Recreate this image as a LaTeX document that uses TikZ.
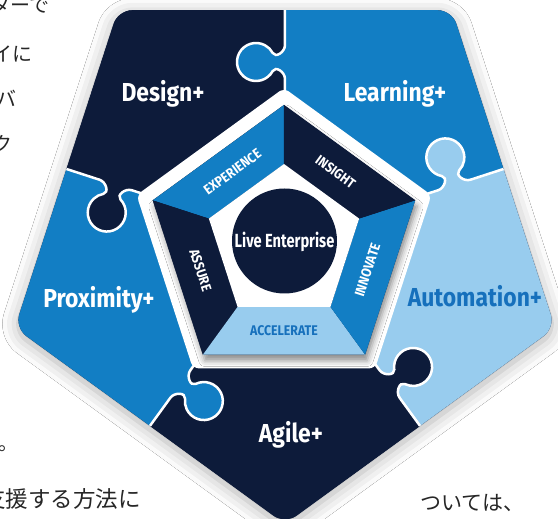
\documentclass[tikz,border=0pt]{standalone}
\usepackage{fontspec}
\setmainfont{Fira Sans}
\newfontfamily\labelfont{Fira Sans}[FakeStretch=0.88]
\newfontfamily\corefont{Fira Sans}[FakeStretch=0.77]
\newfontfamily\jpfont{Noto Sans CJK JP}
\usetikzlibrary{shadows.blur}
\usepackage{xcolor}
\definecolor{navy}{RGB}{13,27,58}
\definecolor{midblue}{RGB}{18,126,196}
\definecolor{lightblue}{RGB}{152,204,238}
\definecolor{autoblue}{RGB}{22,112,188}
\def\knobdist{178}

\begin{document}
\begin{tikzpicture}[x=1pt, y=1pt]
    \tikzstyle{piece label}=[font=\labelfont\bfseries\fontsize{26}{26}\selectfont, text=white, inner sep=0pt, text height=18pt, text depth=0pt]
    \tikzstyle{band label}=[font=\labelfont\bfseries\fontsize{14}{14}\selectfont, text=white, inner sep=0pt, text height=9.6pt, text depth=0pt]
    \tikzstyle{core}=[circle, fill=navy, minimum size=105pt, inner sep=0pt, text=white, font=\corefont\bfseries\fontsize{19}{19}\selectfont, text height=13pt, text depth=0pt]
    \tikzstyle{jp text}=[font=\jpfont\fontsize{20}{20}\selectfont, text=black!85, inner sep=0pt]
    \tikzstyle{gap}=[draw=white, line width=2.5pt]

    % Page with the margins of the screenshot
    \fill[white] (-285,-279) rectangle (273,240);
    \useasboundingbox (-285,-279) rectangle (273,240);

    % Knob points on every seam (seam k runs out at angle 162-72k)
    \foreach \k [evaluate=\k as \th using 162-72*\k] in {1,...,5}
    {
        \begin{scope}[shift={(\th:\knobdist)}, rotate=\th]
            \coordinate (K\k-a) at (-17,0);
            \coordinate (K\k-b) at (-10,0);
            \coordinate (K\k-c) at (-3.7,9.4);
            \coordinate (K\k-d) at (-9,12.27);
            \coordinate (K\k-e) at (9,12.27);
            \coordinate (K\k-f) at (3.7,9.4);
            \coordinate (K\k-g) at (10,0);
            \coordinate (K\k-h) at (17,0);
        \end{scope}
    }

    % Outer pentagon with its shadow
    \fill[navy, rounded corners=14, blur shadow={shadow xshift=0pt, shadow yshift=-4pt, shadow blur radius=16pt, shadow opacity=32}]
        (-90:284) -- (-18:284) -- (54:284) -- (126:284) -- (198:284) -- cycle;

    % Draw the five puzzle pieces
    \begin{scope}
        \clip[rounded corners=14] (-90:284) -- (-18:284) -- (54:284) -- (126:284) -- (198:284) -- cycle;
        \foreach \k/\n/\c [evaluate=\k as \th using 162-72*\k] in {1/2/midblue, 2/3/lightblue, 3/4/navy, 4/5/midblue, 5/1/navy}
            \fill[\c] (0,0) -- (K\k-a) .. controls (K\k-b) and (K\k-c) .. (K\k-d)
                arc[start angle=\th+241.7, end angle=\th-61.7, radius=19]
                .. controls (K\k-f) and (K\k-g) .. (K\k-h) -- (\th:240)
                -- ({\th-36}:300) -- ({\th-72}:240)
                -- (K\n-h) .. controls (K\n-g) and (K\n-f) .. (K\n-e)
                arc[start angle=\th-133.7, end angle=\th+169.7, radius=19]
                .. controls (K\n-c) and (K\n-b) .. (K\n-a) -- cycle;

        % white seams between the pieces
        \foreach \k [evaluate=\k as \th using 162-72*\k] in {1,...,5}
            \draw[gap] (0,0) -- (K\k-a) .. controls (K\k-b) and (K\k-c) .. (K\k-d)
                arc[start angle=\th+241.7, end angle=\th-61.7, radius=19]
                .. controls (K\k-f) and (K\k-g) .. (K\k-h) -- (\th:240);
    \end{scope}

    % Inner pentagon
    \begin{scope}[shift={(-1,-3)}]
        \fill[white, rounded corners=6] (90:155) -- (162:155) -- (234:155) -- (306:155) -- (18:155) -- cycle;
        \fill[navy, blur shadow={shadow xshift=2pt, shadow yshift=-6pt, shadow blur radius=6pt, shadow opacity=45}]
            (90:138) -- (162:138) -- (234:138) -- (306:138) -- (18:138) -- cycle;
        \foreach \a/\c in {90/midblue, 162/navy, 234/lightblue, 306/midblue, 18/navy}
            \fill[\c] (\a:138) -- ({\a+72}:138) -- ({\a+72}:79) -- (\a:79) -- cycle;
        \fill[white] (90:79) -- (162:79) -- (234:79) -- (306:79) -- (18:79) -- cycle;

        \node[core] (live) at (0.5,2) {Live Enterprise};

        \node[band label, rotate=36] (experience) at (126:87.8) {EXPERIENCE};
        \node[band label, rotate=-36] (insight) at (54:87.8) {INSIGHT};
        \node[band label, rotate=72] (innovate) at (342:87.8) {INNOVATE};
        \node[band label, text=autoblue] (accelerate) at (270:87.8) {ACCELERATE};
        \node[band label, rotate=-72] (assure) at (198:87.8) {ASSURE};
    \end{scope}

    % Piece labels
    \node[piece label] (design) at (-122,147) {Design+};
    \node[piece label] (learning) at (110,147) {Learning+};
    \node[piece label, text=autoblue] (automation) at (190,-58) {Automation+};
    \node[piece label] (proximity) at (-186,-59) {Proximity+};
    \node[piece label] (agile) at (6,-194) {Agile+};

    % Cut-off page text round the figure
    \node[jp text, anchor=east] (jp-1) at (-235,235) {ターで};
    \node[jp text, anchor=east] (jp-2) at (-252,186) {イに};
    \node[jp text, anchor=east] (jp-3) at (-268,142) {バ};
    \node[jp text, anchor=east] (jp-4) at (-272,96) {ク};
    \node[jp text, anchor=base west] (jp-5) at (-287,-211) {。};
    \node[jp text, font=\jpfont\fontsize{22.5}{22.5}\selectfont, anchor=east] (jp-6) at (-144,-259) {支援する方法に};
    \node[jp text, font=\jpfont\fontsize{21}{21}\selectfont, anchor=west] (jp-7) at (135,-263) {ついては、};
\end{tikzpicture}
\end{document}
